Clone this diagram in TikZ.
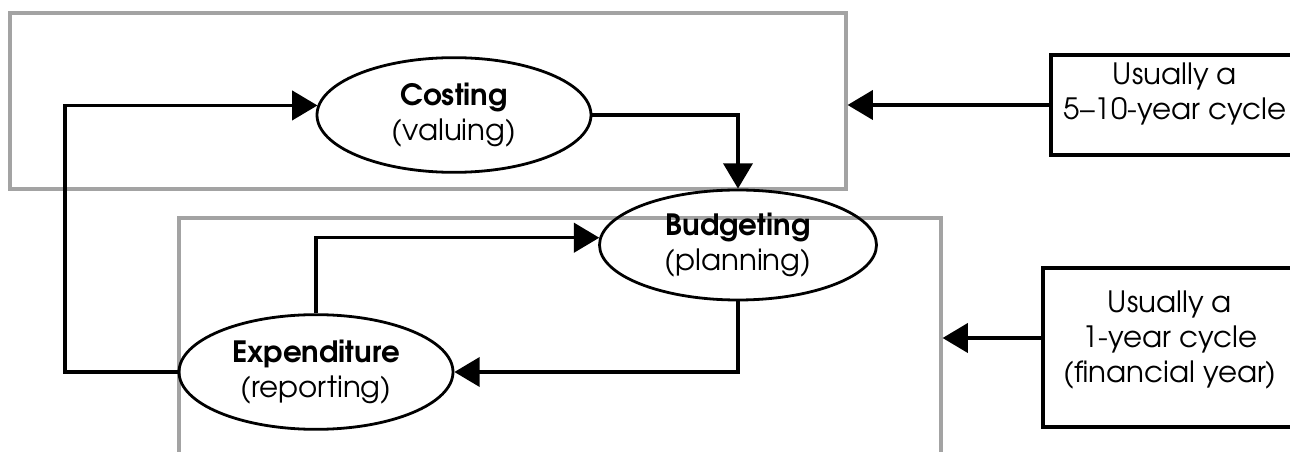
\documentclass[tikz,border=0pt]{standalone}
\usepackage{fontspec}
\setmainfont{texgyreadventor}[Extension=.otf, UprightFont=*-regular, BoldFont=*-bold]
\usetikzlibrary{shapes.geometric,arrows.meta,fit}
\begin{document}
\begin{tikzpicture}[x=0.75pt,y=-0.75pt,
  every node/.style={font=\fontsize{22}{26.5}\selectfont},
  frame/.style={draw=gray!72, line width=2.4pt, inner sep=0pt},
  oval/.style={ellipse, draw, line width=2.1pt, inner sep=0pt, align=center,
               minimum width=205.5pt, minimum height=86pt},
  cyclebox/.style={draw, line width=2.3pt, inner sep=0pt},
  arr/.style={draw, line width=2.3pt, -{Triangle[length=19pt,width=22pt]}}]
  \useasboundingbox (0,0) rectangle (1290,452);
  \clip (0,0) rectangle (1290,452);

  % outer frames for the two planning horizons
  \node[frame, fit={(10,13) (846,189)}] (topframe) {};
  \node[frame, fit={(179,218) (941,480)}] (botframe) {};

  % the three activities
  \node[oval] (costing) at (454,115) {\textbf{Costing}\\(valuing)};
  \node[oval, minimum width=207.75pt, minimum height=82.5pt] (budgeting) at (738,245) {\textbf{Budgeting}\\(planning)};
  \node[oval] (expenditure) at (316,372) {\textbf{Expenditure}\\(reporting)};

  % cycle-length notes on the right
  \node[cyclebox, fit={(1051,55) (1320,155)}] (longbox) {};
  \node[align=center] (longtxt) at (1175,94) {Usually a\\5--10-year cycle};
  \node[cyclebox, fit={(1043,268) (1320,427)}] (shortbox) {};
  \node[align=center] (shorttxt) at (1170,340) {Usually a\\1-year cycle\\(financial year)};
  \coordinate (shortin) at (1043,338);

  % flows between activities
  \draw[arr] (costing.east) -| (budgeting.north);
  \draw[arr] (budgeting.south) |- (expenditure.east);
  \draw[arr] (expenditure.north) |- (budgeting.177);
  \coordinate (loop) at (65,373);
  \draw[arr] (expenditure.west) -- (expenditure.west -| loop) |- (costing.176);

  % cycle notes pointing at their frames
  \draw[arr] (longbox.west) -- (longbox.west -| topframe.east);
  \draw[arr] (shortin) -- (shortin -| botframe.east);
\end{tikzpicture}
\end{document}
